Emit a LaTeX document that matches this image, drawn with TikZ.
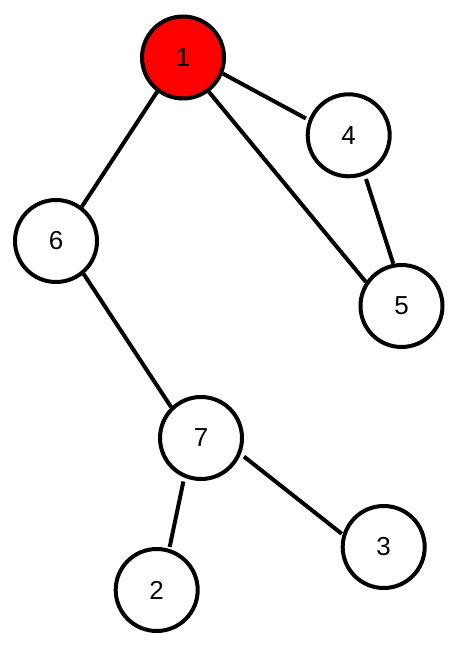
\documentclass[tikz,border=0pt]{standalone}
\usepackage{fontspec}
\setmainfont{Liberation Sans}
\usetikzlibrary{arrows.meta}
\definecolor{rootred}{HTML}{FF0000}
\tikzset{
  every picture/.style={
    line join=round,
    line cap=round,
  },
  vertex/.style={circle, draw=black, line width=4pt, fill=white,
    minimum size=82pt, inner sep=0pt, font=\fontsize{26}{28}\selectfont},
  root/.style={vertex, fill=rootred},
  link/.style={line width=4pt, line cap=butt},
}

\begin{document}
\begin{tikzpicture}[x=1pt, y=-1pt]
    % Canvas
    \useasboundingbox (0,0) rectangle (451,647);

    % Vertices
    \node[root]   (n1) at (183,57.5)    {1};
    \node[vertex] (n4) at (348.7,135.3) {4};
    \node[vertex] (n6) at (56,241)      {6};
    \node[vertex] (n5) at (401.5,306)   {5};
    \node[vertex] (n7) at (201,438)     {7};
    \node[vertex] (n3) at (383.7,547)   {3};
    \node[vertex] (n2) at (156.7,590)   {2};

    % Edges
    \draw[link, shorten >=3pt] (n1.-22) -- (n4.159);
    \draw[link] (n1.-127) -- (n6.53);
    \draw[link] (n1.-53) -- (n5.146);
    \draw[link, shorten <=4pt] (n4.-68) -- (n5.101);
    \draw[link] (n6.-50) -- (n7.134);
    \draw[link, shorten <=4pt, shorten >=2pt] (n7.-113) -- (n2.73);
    \draw[link, shorten <=4pt, shorten >=1pt] (n7.-22) -- (n3.163);
\end{tikzpicture}
\end{document}
